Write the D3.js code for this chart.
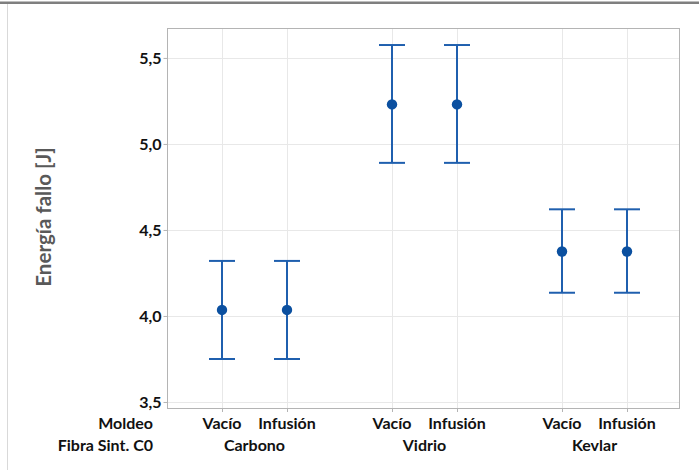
<!DOCTYPE html>
<html>
<head>
<meta charset="utf-8">
<script src="https://cdn.jsdelivr.net/npm/d3@7"></script>
<style>
  html, body { margin: 0; padding: 0; background: #fff; }
  svg { display: block; }
  text { font-family: Lato, "Open Sans", sans-serif; }
</style>
</head>
<body>
<svg id="chart" width="699" height="470"></svg>
<script>
// ---- data ----
const fibras = ["Carbono", "Vidrio", "Kevlar"];
const moldeos = ["Vacío", "Infusión"];
const medias = [4.035, 4.035, 5.23, 5.23, 4.375, 4.375];
const superior = [4.32, 4.32, 5.575, 5.575, 4.62, 4.62];
const inferior = [3.75, 3.75, 4.89, 4.89, 4.135, 4.135];
const yTicks = [3.5, 4.0, 4.5, 5.0, 5.5];
const yLabel = "Energía fallo [J]";
const rowLabels = ["Moldeo", "Fibra Sint. C0"];

const rows = [];
fibras.forEach((f, gi) => moldeos.forEach((m, mi) => {
  const i = gi * moldeos.length + mi;
  rows.push({ fibra: f, moldeo: m, mean: medias[i], hi: superior[i], lo: inferior[i] });
}));

// ---- layout ----
const svg = d3.select("#chart");
const pL = 167, pR = 679, pT = 28, pB = 408;

const xGroup = d3.scaleBand().domain(fibras).range([169.5, 679.5]).paddingInner(0).paddingOuter(0);
const xInner = d3.scalePoint().domain(moldeos).range([0, xGroup.bandwidth()]).padding(0.8077);
const xPos = d => xGroup(d.fibra) + xInner(d.moldeo);

const y = d3.scaleLinear().domain([3.465, 5.674]).range([pB, pT]);

const fmt = v => d3.format(".1f")(v).replace(".", ",");

// page decorations
svg.append("rect").attr("x", 0).attr("y", 1.5).attr("width", 699).attr("height", 2.5).attr("fill", "#7f7f7f");
svg.append("line").attr("x1", 7.5).attr("x2", 7.5).attr("y1", 4).attr("y2", 470)
  .attr("stroke", "#d9d9d9").attr("stroke-width", 1);

// grid
const grid = svg.append("g");
grid.selectAll("line.h").data(yTicks).join("line")
  .attr("x1", pL).attr("x2", pR)
  .attr("y1", d => Math.round(y(d)) + 0.5).attr("y2", d => Math.round(y(d)) + 0.5)
  .attr("stroke", "#e8e8e8").attr("stroke-width", 1);
grid.selectAll("line.v").data(rows).join("line")
  .attr("x1", d => Math.round(xPos(d)) + 0.5).attr("x2", d => Math.round(xPos(d)) + 0.5)
  .attr("y1", pT).attr("y2", pB)
  .attr("stroke", "#e8e8e8").attr("stroke-width", 1);

// frame
svg.append("rect").attr("x", pL + 0.5).attr("y", pT + 0.5)
  .attr("width", pR - pL).attr("height", pB - pT)
  .attr("fill", "none").attr("stroke", "#b4b4b4").attr("stroke-width", 1);

// y axis
const yAxis = d3.axisLeft(y).tickValues(yTicks).tickFormat(fmt).tickSize(4).tickPadding(2);
const ya = svg.append("g").attr("transform", `translate(${pL + 0.5},0)`).call(yAxis);
ya.select(".domain").remove();
ya.selectAll(".tick line").attr("stroke", "#b4b4b4");
ya.selectAll(".tick text").attr("fill", "#111").attr("font-size", 16).attr("font-weight", "bold")
  .attr("font-family", "Lato, 'Open Sans', sans-serif");

// x ticks
svg.append("g").selectAll("line").data(rows).join("line")
  .attr("x1", d => Math.round(xPos(d)) + 0.5).attr("x2", d => Math.round(xPos(d)) + 0.5)
  .attr("y1", pB).attr("y2", pB + 4).attr("stroke", "#b4b4b4");

// y label
svg.append("text")
  .attr("transform", `translate(51,217) rotate(-90)`)
  .attr("text-anchor", "middle")
  .attr("font-size", 20.5).attr("font-weight", "bold").attr("fill", "#595959")
  .text(yLabel);

// x labels
const labs = svg.append("g").attr("font-size", 16).attr("font-weight", "bold").attr("fill", "#111");
labs.selectAll("text.m").data(rows).join("text")
  .attr("x", d => xPos(d)).attr("y", 428.5).attr("text-anchor", "middle").text(d => d.moldeo);
labs.selectAll("text.f").data(fibras).join("text")
  .attr("x", d => xGroup(d) + xGroup.bandwidth() / 2).attr("y", 450.5).attr("text-anchor", "middle").text(d => d);
labs.selectAll("text.r").data(rowLabels).join("text")
  .attr("x", 153).attr("y", (d, i) => i === 0 ? 428.5 : 450.5).attr("text-anchor", "end").text(d => d);

// error bars
const eb = svg.append("g").attr("stroke", "#1f5fae").attr("stroke-width", 2).attr("fill", "none");
eb.selectAll("line.v").data(rows).join("line")
  .attr("x1", d => xPos(d)).attr("x2", d => xPos(d))
  .attr("y1", d => y(d.hi)).attr("y2", d => y(d.lo));
eb.selectAll("line.t").data(rows).join("line")
  .attr("x1", d => xPos(d) - 13).attr("x2", d => xPos(d) + 13)
  .attr("y1", d => y(d.hi)).attr("y2", d => y(d.hi));
eb.selectAll("line.b").data(rows).join("line")
  .attr("x1", d => xPos(d) - 13).attr("x2", d => xPos(d) + 13)
  .attr("y1", d => y(d.lo)).attr("y2", d => y(d.lo));

svg.append("g").selectAll("circle").data(rows).join("circle")
  .attr("cx", d => xPos(d)).attr("cy", d => y(d.mean)).attr("r", 5.2)
  .attr("fill", "#0b50a0");
</script>
</body>
</html>
